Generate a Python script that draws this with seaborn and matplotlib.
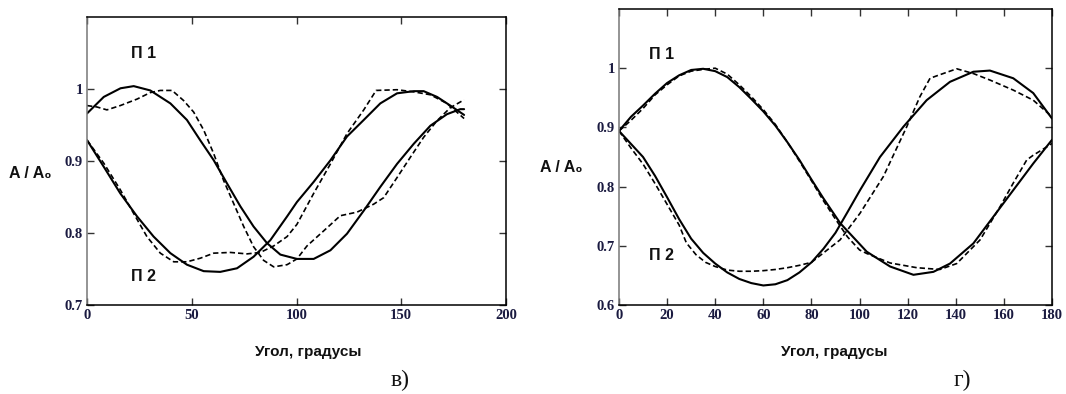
import numpy as np
import pandas as pd
import matplotlib
matplotlib.use('Agg')
import matplotlib.pyplot as plt
import seaborn as sns

# ---- panel "в)" : П1 / П2, solid and dashed ----
v_p1_solid_x = [0, 8, 16, 22.3, 30.2, 39.8, 47.7, 54, 60.5, 66.8, 73.2, 79.5, 85.9, 92.3, 100.2,
                108.2, 116.2, 124.1, 132.1, 140, 148, 156, 163.9, 171.8, 178.2, 180]
v_p1_solid_y = [0.966, 0.989, 1.001, 1.004, 0.998, 0.980, 0.957, 0.929, 0.901, 0.869, 0.837, 0.809, 0.786, 0.770, 0.764,
                0.764, 0.776, 0.799, 0.831, 0.864, 0.896, 0.924, 0.949, 0.965, 0.972, 0.972]

v_p2_solid_x = [0, 8, 15.9, 23.9, 31.8, 39.8, 47.7, 55.7, 63.6, 71.6, 79.5, 87.5, 95.5, 100.2,
                108.2, 116.2, 124.1, 132.1, 140, 148, 156, 160.7, 167.1, 173.4, 180]
v_p2_solid_y = [0.929, 0.892, 0.855, 0.823, 0.795, 0.772, 0.756, 0.747, 0.746, 0.751, 0.767, 0.790, 0.823, 0.843,
                0.871, 0.901, 0.934, 0.957, 0.980, 0.994, 0.997, 0.997, 0.989, 0.977, 0.964]

v_p1_dash_x = [0, 4.8, 9.5, 15.9, 23.9, 30.2, 35, 40.6, 46.1, 50.9, 55.7, 60.5, 65.2, 70, 74.8, 79.5, 84.3, 89.1, 95.5,
               100.2, 105, 113, 120.9, 128.9, 136.8, 141.6, 148, 154.3, 160.7, 167.1, 173.4, 180]
v_p1_dash_y = [0.977, 0.975, 0.971, 0.977, 0.986, 0.995, 0.998, 0.998, 0.984, 0.968, 0.943, 0.910, 0.873, 0.841, 0.809,
               0.781, 0.762, 0.753, 0.756, 0.764, 0.782, 0.803, 0.824, 0.829, 0.840, 0.849, 0.877, 0.905, 0.933, 0.956,
               0.974, 0.985]

v_p2_dash_x = [0, 8, 15.9, 22.3, 28.6, 35, 41.4, 47.7, 54.1, 60.5, 68.4, 76.4, 82.7, 89.1, 95.5, 100.2,
               108.2, 116.2, 124.1, 132.1, 138, 148, 156, 163.9, 171.8, 180]
v_p2_dash_y = [0.929, 0.897, 0.860, 0.827, 0.795, 0.772, 0.760, 0.760, 0.765, 0.772, 0.773, 0.771, 0.773, 0.782, 0.795,
               0.812, 0.855, 0.896, 0.938, 0.971, 0.998, 0.999, 0.996, 0.992, 0.980, 0.959]

# ---- panel "г)" ----
g_p1_solid_x = [0, 5, 10, 15, 20, 25, 30, 35, 40, 45, 50, 55, 60, 65, 70, 75, 80, 85, 90, 92,
                103, 112.7, 122.4, 130.7, 137.6, 147.3, 155.6, 163.9, 172.2, 180]
g_p1_solid_y = [0.894, 0.918, 0.937, 0.957, 0.975, 0.988, 0.997, 0.999, 0.995, 0.985, 0.968, 0.948, 0.927, 0.903,
                0.875, 0.845, 0.812, 0.780, 0.750, 0.738, 0.690, 0.665, 0.651, 0.656, 0.670, 0.704, 0.749, 0.794,
                0.839, 0.879]

g_p2_solid_x = [0, 5, 10, 15, 20, 25, 30, 35, 40, 45, 50, 55, 60, 65, 70, 75, 80, 85, 90, 95, 100.2,
                108.5, 118.2, 127.9, 137.6, 147.3, 154.2, 163.9, 172.2, 180]
g_p2_solid_y = [0.894, 0.872, 0.850, 0.818, 0.782, 0.745, 0.712, 0.688, 0.670, 0.655, 0.644, 0.637, 0.633, 0.635,
                0.642, 0.655, 0.672, 0.695, 0.722, 0.757, 0.794, 0.850, 0.901, 0.946, 0.977, 0.994, 0.996, 0.983,
                0.958, 0.915]

g_p1_dash_x = [0, 5, 10, 15, 20, 25, 30, 35, 40, 45, 50, 55, 60, 65, 70, 75, 80, 85, 90, 95, 100, 103,
               112.7, 123.8, 133.4, 140.4, 150.1, 158.4, 163.9, 169.5, 172.2, 177.8, 180]
g_p1_dash_y = [0.894, 0.912, 0.932, 0.955, 0.972, 0.987, 0.995, 0.998, 1.000, 0.990, 0.972, 0.952, 0.930, 0.905,
               0.875, 0.843, 0.810, 0.776, 0.745, 0.715, 0.693, 0.687, 0.671, 0.663, 0.660, 0.670, 0.710, 0.766,
               0.806, 0.845, 0.853, 0.867, 0.873]

g_p2_dash_x = [0, 5, 10, 15, 20, 25, 28, 32, 36, 40, 45, 50, 55, 60, 65, 70, 75, 80, 85, 91.9, 100.2,
               109.9, 119.6, 125.1, 129.3, 133.4, 140.4, 147.3, 154.2, 163.9, 172.2, 180]
g_p2_dash_y = [0.894, 0.865, 0.838, 0.805, 0.770, 0.735, 0.705, 0.685, 0.672, 0.665, 0.659, 0.657, 0.657, 0.658,
               0.660, 0.663, 0.667, 0.672, 0.688, 0.710, 0.755, 0.817, 0.901, 0.952, 0.983, 0.989, 0.999, 0.991,
               0.980, 0.963, 0.946, 0.918]

v_xticks = [0, 50, 100, 150, 200]
v_yticks = [0.7, 0.8, 0.9, 1.0]
v_ylabels = ['0.7', '0.8', '0.9', '1']
g_xticks = [0, 20, 40, 60, 80, 100, 120, 140, 160, 180]
g_yticks = [0.6, 0.7, 0.8, 0.9, 1.0]
g_ylabels = ['0.6', '0.7', '0.8', '0.9', '1']

sns.set_style('white')

fig = plt.figure(figsize=(10.66, 3.94), dpi=100)
ax1 = fig.add_axes([87/1066, 1-305/394, 419/1066, 288/394])
ax2 = fig.add_axes([619/1066, 1-305/394, 433/1066, 296/394])

tick_col = '#1a1a40'
serif = ['Liberation Serif', 'DejaVu Serif']
sans = ['Liberation Sans', 'DejaVu Sans']
narrow = ['Liberation Sans Narrow', 'Liberation Sans', 'DejaVu Sans']


def draw(ax, curves, xlim, ylim, xticks, yticks, ylabels):
    for x, y, dashed in curves:
        sns.lineplot(x=x, y=y, ax=ax, color='black', sort=False,
                     linewidth=1.2 if dashed else 1.5,
                     linestyle=(0, (3.2, 1.8)) if dashed else '-')
    ax.set_xlim(*xlim)
    ax.set_ylim(*ylim)
    ax.set_xticks(xticks)
    ax.set_xticklabels([str(t) for t in xticks])
    ax.set_yticks(yticks)
    ax.set_yticklabels(ylabels)
    ax.tick_params(direction='in', length=5, width=1, top=True, right=True,
                   bottom=True, left=True, pad=3, colors='#333333')
    for lab in ax.get_xticklabels() + ax.get_yticklabels():
        lab.set_family(serif)
        lab.set_fontweight('bold')
        lab.set_fontsize(10.5)
        lab.set_color(tick_col)
    for s in ax.spines.values():
        s.set_color('black')
        s.set_linewidth(1.1)
    ax.spines['left'].set_color('#777777')
    ax.set_xlabel('')
    ax.set_ylabel('')


draw(ax1, [(v_p1_solid_x, v_p1_solid_y, False), (v_p2_solid_x, v_p2_solid_y, False),
           (v_p1_dash_x, v_p1_dash_y, True), (v_p2_dash_x, v_p2_dash_y, True)],
     (0, 200), (0.7, 1.1), v_xticks, v_yticks, v_ylabels)
draw(ax2, [(g_p1_solid_x, g_p1_solid_y, False), (g_p2_solid_x, g_p2_solid_y, False),
           (g_p1_dash_x, g_p1_dash_y, True), (g_p2_dash_x, g_p2_dash_y, True)],
     (0, 180), (0.6, 1.1), g_xticks, g_yticks, g_ylabels)

lab_kw = dict(family=sans, fontweight='bold', fontsize=11.5, color='#111111', va='center', ha='left')
ax1.text(21, 1.049, 'П 1', **lab_kw)
ax1.text(21, 0.739, 'П 2', **lab_kw)
ax2.text(12.3, 1.023, 'П 1', **lab_kw)
ax2.text(12.3, 0.683, 'П 2', **lab_kw)

fig.text(30/1066, 1-173/394, 'A / A₀', family=sans, fontweight='bold', fontsize=11.5,
         ha='center', va='center', color='#111111')
fig.text(561/1066, 1-168/394, 'A / A₀', family=sans, fontweight='bold', fontsize=11.5,
         ha='center', va='center', color='#111111')

fig.text(308/1066, 1-352/394, 'Угол, градусы', family=narrow, fontweight='bold', fontsize=11,
         ha='center', va='center', color='#111111')
fig.text(834/1066, 1-352/394, 'Угол, градусы', family=narrow, fontweight='bold', fontsize=11,
         ha='center', va='center', color='#111111')

fig.text(400/1066, 1-380/394, 'в)', family=serif, fontsize=17, ha='center', va='center', color='#111111')
fig.text(962/1066, 1-380/394, 'г)', family=serif, fontsize=17, ha='center', va='center', color='#111111')

fig.savefig('out.png', dpi=100)
